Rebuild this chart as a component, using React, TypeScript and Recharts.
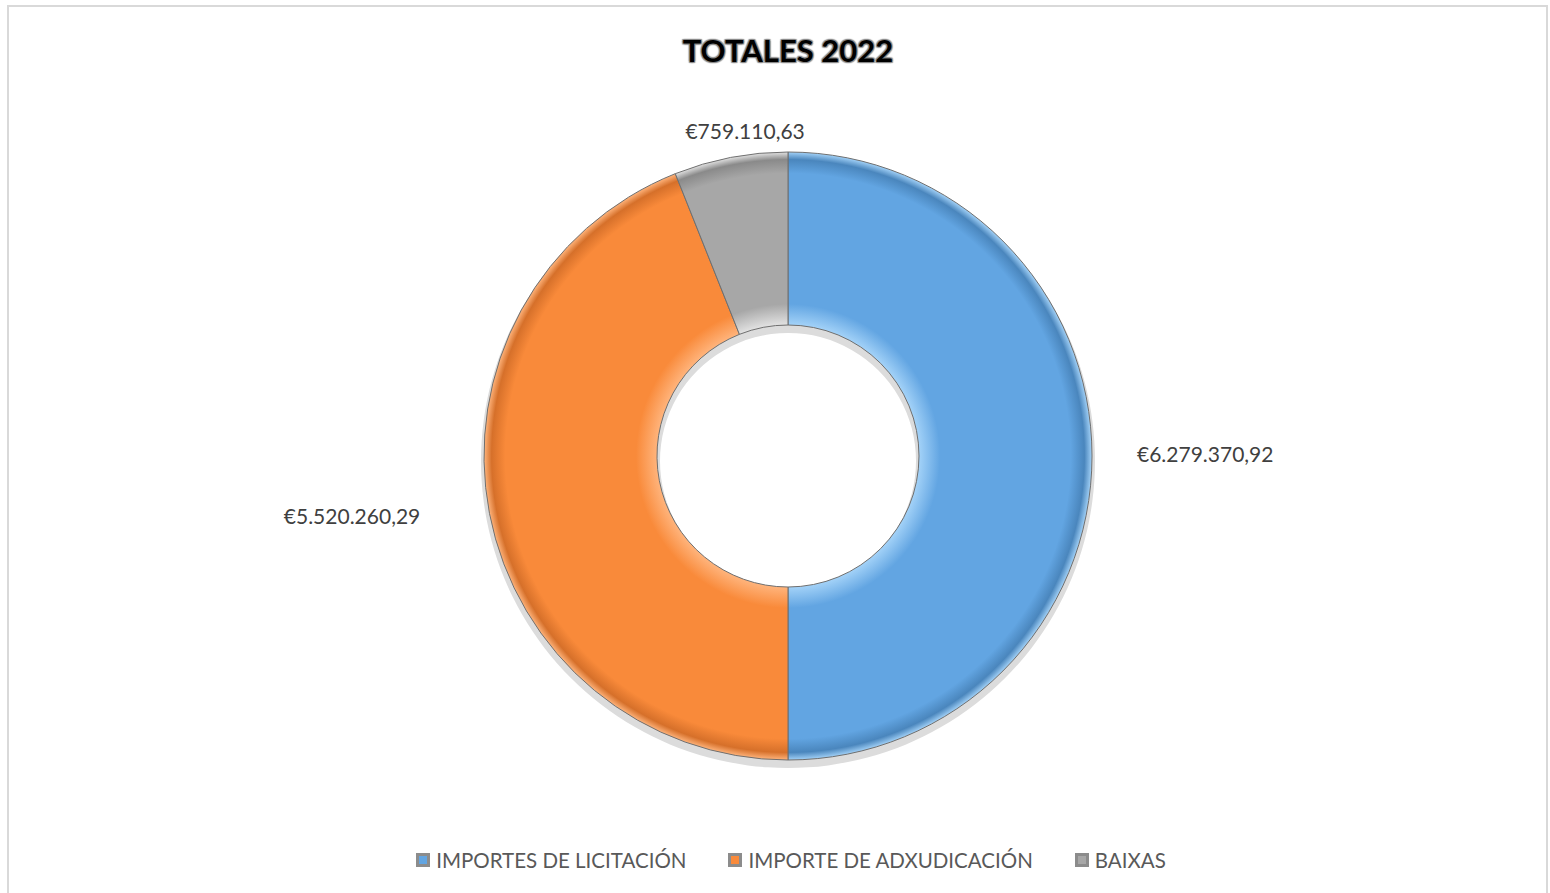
import React from "react";
import { PieChart, Pie, Cell, Legend } from "recharts";

const categorias = ["IMPORTES DE LICITACIÓN", "IMPORTE DE ADXUDICACIÓN", "BAIXAS"];
const importes = [6279370.92, 5520260.29, 759110.63];
const etiquetas = ["€6.279.370,92", "€5.520.260,29", "€759.110,63"];
const colores = ["#62a5e2", "#f98a3a", "#a7a7a7"];
const claros = ["#a3d2f8", "#ffb47c", "#e2e2e2"];
const oscuros = ["#4a86bd", "#d6702a", "#8a8a8a"];

const data = categorias.map((nombre, i) => ({
  nombre,
  valor: importes[i],
  etiqueta: etiquetas[i],
}));

const CX = 788;
const CY = 456;
const R_OUT = 304;
const R_IN = 131;
const RAD = Math.PI / 180;

// small nudges so labels land where Excel's best-fit put them
const AJUSTE = [
  [0, -3],
  [-25, -6],
  [23, 17],
];

function Etiqueta(props: any) {
  const { cx, cy, midAngle, outerRadius, index } = props;
  const r = outerRadius + 45;
  const cos = Math.cos(-midAngle * RAD);
  const sin = Math.sin(-midAngle * RAD);
  const x = cx + r * cos + AJUSTE[index][0];
  const y = cy + r * sin + AJUSTE[index][1];
  const anchor = Math.abs(cos) < 0.3 ? "middle" : cos > 0 ? "start" : "end";
  return (
    <text
      x={x}
      y={y}
      textAnchor={anchor}
      dominantBaseline="central"
      fill="#404040"
      fontSize={21}
      fontFamily="Lato"
    >
      {etiquetas[index]}
    </text>
  );
}

function Leyenda() {
  return (
    <div
      style={{
        display: "flex",
        justifyContent: "center",
        gap: 42,
        fontFamily: "Lato",
        fontSize: 20.5,
        color: "#595959",
      }}
    >
      {categorias.map((c, i) => (
        <div key={c} style={{ display: "flex", alignItems: "center" }}>
          <span
            style={{
              width: 14,
              height: 14,
              marginRight: 6,
              background: colores[i],
              border: "3px solid #8c8c8c",
              boxSizing: "border-box",
              display: "inline-block",
            }}
          />
          {c}
        </div>
      ))}
    </div>
  );
}

export default function App() {
  return (
    <div
      style={{
        position: "absolute",
        left: 0,
        top: 0,
        width: 1550,
        height: 893,
        overflow: "hidden",
        background: "#fff",
      }}
    >
      <div
        style={{
          position: "absolute",
          left: 7,
          top: 5,
          width: 1537,
          height: 920,
          border: "2px solid #d9d9d9",
        }}
      />
      <div
        style={{
          position: "absolute",
          top: 31,
          left: 0,
          width: 1576,
          textAlign: "center",
          fontFamily: "Lato",
          fontWeight: 700,
          fontSize: 31,
          color: "#000",
          textShadow:
            "0 0 2px #8a8a8a, 1px 1px 1px #8a8a8a, -1px -1px 1px #8a8a8a, 1px -1px 1px #8a8a8a, -1px 1px 1px #8a8a8a",
        }}
      >
        TOTALES 2022
      </div>
      <PieChart
        width={1550}
        height={893}
        margin={{ top: 0, right: 0, bottom: 0, left: 0 }}
        style={{ position: "absolute", left: 0, top: 0 }}
      >
        <defs>
          {colores.map((c, i) => (
            <radialGradient
              key={c}
              id={`g${i}`}
              gradientUnits="userSpaceOnUse"
              cx={CX}
              cy={CY}
              r={R_OUT}
            >
              <stop offset={R_IN / R_OUT} stopColor={claros[i]} />
              <stop offset={0.5} stopColor={c} />
              <stop offset={0.93} stopColor={c} />
              <stop offset={0.975} stopColor={oscuros[i]} />
              <stop offset={1} stopColor={claros[i]} />
            </radialGradient>
          ))}
        </defs>
        <Pie
          data={[{ v: 1 }]}
          dataKey="v"
          cx={CX}
          cy={CY + 5}
          innerRadius={R_IN - 3}
          outerRadius={R_OUT + 3}
          fill="#dcdcdc"
          stroke="none"
          isAnimationActive={false}
          legendType="none"
        />
        <Pie
          data={data}
          dataKey="valor"
          nameKey="nombre"
          cx={CX}
          cy={CY}
          innerRadius={R_IN}
          outerRadius={R_OUT}
          startAngle={90}
          endAngle={-270}
          stroke="#6f6f6f"
          strokeWidth={1}
          label={Etiqueta}
          labelLine={false}
          isAnimationActive={false}
        >
          {data.map((d, i) => (
            <Cell key={d.nombre} fill={`url(#g${i})`} />
          ))}
        </Pie>
        <Legend
          content={<Leyenda />}
          wrapperStyle={{ top: 848, left: 0, width: 1582 }}
        />
      </PieChart>
    </div>
  );
}
